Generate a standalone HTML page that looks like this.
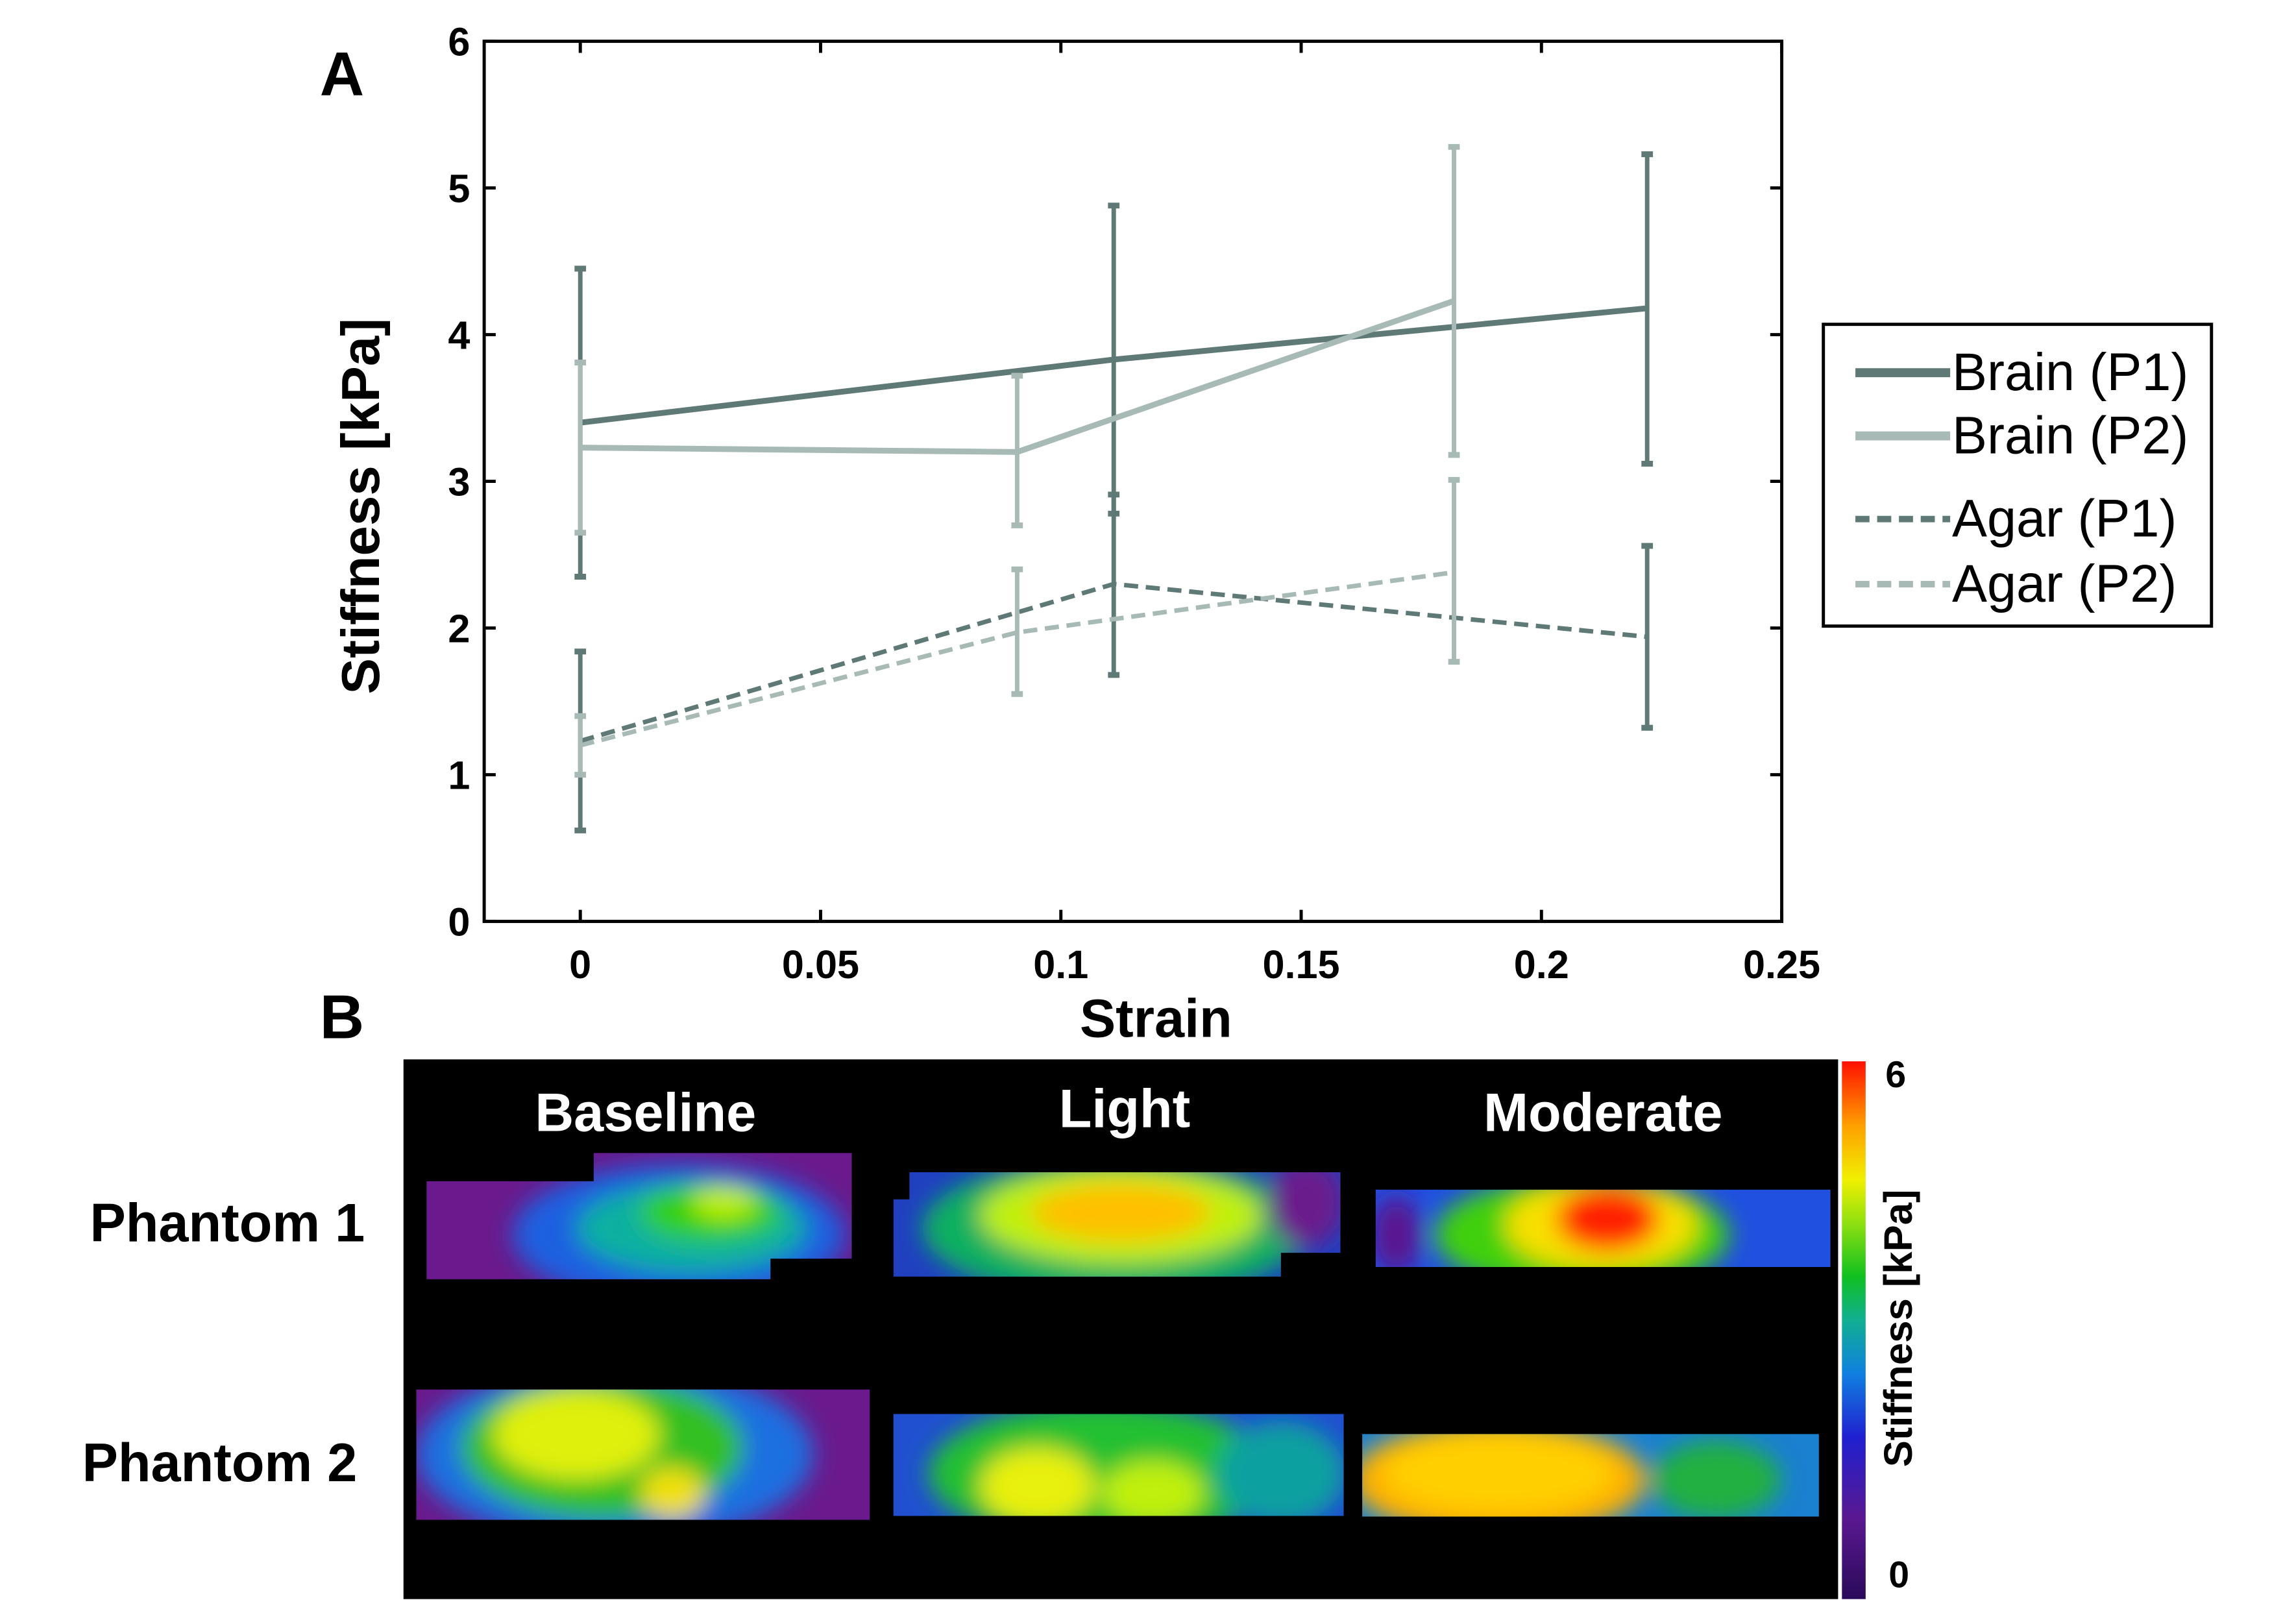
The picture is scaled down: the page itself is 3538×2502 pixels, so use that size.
<!DOCTYPE html>
<html><head><meta charset="utf-8"><style>
body{margin:0;background:#fff;}
svg{display:block;font-family:"Liberation Sans",Arial,sans-serif;}
</style></head><body>
<svg id="fig" width="3538" height="2502" viewBox="0 0 3538 2502">
<defs>
<filter id="bl" x="-20%" y="-20%" width="140%" height="140%"><feGaussianBlur stdDeviation="18"/></filter>
<linearGradient id="cbar" x1="0" y1="1" x2="0" y2="0">
<stop offset="0" stop-color="#2a0a5a"/><stop offset="0.15" stop-color="#5a1890"/><stop offset="0.3" stop-color="#2020d0"/><stop offset="0.42" stop-color="#1080e0"/><stop offset="0.52" stop-color="#10b090"/><stop offset="0.6" stop-color="#10c020"/><stop offset="0.7" stop-color="#90e010"/><stop offset="0.78" stop-color="#f0f000"/><stop offset="0.88" stop-color="#ffa000"/><stop offset="1" stop-color="#ff1000"/>
</linearGradient>
</defs>
<g transform="scale(0.9869,0.9934)">
<text x="534" y="148" font-size="96" font-weight="bold" text-anchor="middle">A</text>
<text x="534" y="1610" font-size="96" font-weight="bold" text-anchor="middle">B</text>
<g id="plot"></g>
<g>
<rect x="2847" y="503" width="606" height="468" fill="#fff" stroke="#000" stroke-width="5"/>
<line x1="2897" y1="578" x2="3045" y2="578" stroke="#5f7a76" stroke-width="14"/>
<text x="3048" y="605" font-size="82">Brain (P1)</text>
<line x1="2897" y1="676" x2="3045" y2="676" stroke="#a8bab6" stroke-width="14"/>
<text x="3048" y="703" font-size="82">Brain (P2)</text>
<line x1="2897" y1="805" x2="3045" y2="805" stroke="#5f7a76" stroke-width="10" stroke-dasharray="22 12"/>
<text x="3048" y="832" font-size="82">Agar (P1)</text>
<line x1="2897" y1="906" x2="3045" y2="906" stroke="#a8bab6" stroke-width="10" stroke-dasharray="22 12"/>
<text x="3048" y="933" font-size="82">Agar (P2)</text>
</g>
<g>
<rect x="630" y="1643" width="2240" height="837" fill="#000"/>
<text x="1008" y="1754" font-size="84" font-weight="bold" fill="#fff" text-anchor="middle">Baseline</text>
<text x="1756" y="1748" font-size="84" font-weight="bold" fill="#fff" text-anchor="middle">Light</text>
<text x="2503" y="1754" font-size="84" font-weight="bold" fill="#fff" text-anchor="middle">Moderate</text>
<text x="355" y="1925" font-size="84" font-weight="bold" text-anchor="middle">Phantom 1</text>
<text x="343" y="2297" font-size="84" font-weight="bold" text-anchor="middle">Phantom 2</text>
<g transform="translate(0,-15)">
<g>
<clipPath id="c1"><path d="M666 1847H927V1803H1330V1967H1203V1999H666Z"/></clipPath>
<g clip-path="url(#c1)"><rect x="660" y="1790" width="680" height="220" fill="#6a1a8c"/>
<g filter="url(#bl)"><ellipse cx="1060" cy="1930" rx="260" ry="110" fill="#1a60e0"/><ellipse cx="1080" cy="1920" rx="180" ry="70" fill="#10b0a0"/><ellipse cx="1110" cy="1895" rx="110" ry="45" fill="#30d010"/><ellipse cx="1130" cy="1880" rx="50" ry="25" fill="#c0f010"/></g></g></g>
<g>
<clipPath id="c2"><path d="M1420 1833H2093V1958H2000V1995H1395V1875H1420Z"/></clipPath>
<g clip-path="url(#c2)"><rect x="1390" y="1825" width="710" height="180" fill="#2040c0"/>
<g filter="url(#bl)"><ellipse cx="1740" cy="1920" rx="300" ry="110" fill="#10b060"/><ellipse cx="1750" cy="1900" rx="220" ry="75" fill="#c0f010"/><ellipse cx="1750" cy="1895" rx="140" ry="45" fill="#ffc000"/><ellipse cx="2040" cy="1880" rx="60" ry="70" fill="#6a1a8c"/></g></g></g>
<g>
<clipPath id="c3"><rect x="2148" y="1860" width="710" height="120"/></clipPath>
<g clip-path="url(#c3)"><rect x="2140" y="1850" width="730" height="140" fill="#2050e0"/>
<g filter="url(#bl)"><ellipse cx="2470" cy="1930" rx="230" ry="90" fill="#40d010"/><ellipse cx="2500" cy="1915" rx="150" ry="70" fill="#f8e000"/><ellipse cx="2510" cy="1905" rx="80" ry="50" fill="#ff2000"/><ellipse cx="2180" cy="1930" rx="40" ry="60" fill="#5a1890"/></g></g></g>
<g>
<clipPath id="c4"><rect x="650" y="2170" width="708" height="202"/></clipPath>
<g clip-path="url(#c4)"><rect x="640" y="2160" width="730" height="220" fill="#6a1a8c"/>
<g filter="url(#bl)"><ellipse cx="960" cy="2270" rx="310" ry="140" fill="#1a70e0"/><ellipse cx="940" cy="2260" rx="220" ry="110" fill="#30c020"/><ellipse cx="900" cy="2240" rx="130" ry="70" fill="#e0f010"/><ellipse cx="1050" cy="2330" rx="50" ry="40" fill="#f0e010"/></g></g></g>
<g>
<clipPath id="c5"><rect x="1395" y="2208" width="703" height="158"/></clipPath>
<g clip-path="url(#c5)"><rect x="1390" y="2200" width="715" height="170" fill="#2050d0"/>
<g filter="url(#bl)"><ellipse cx="1720" cy="2300" rx="270" ry="110" fill="#20c030"/><ellipse cx="1620" cy="2320" rx="90" ry="60" fill="#e8f010"/><ellipse cx="1800" cy="2330" rx="80" ry="50" fill="#c0f010"/><ellipse cx="2000" cy="2300" rx="100" ry="80" fill="#10a0a0"/></g></g></g>
<g>
<clipPath id="c6"><rect x="2127" y="2239" width="713" height="128"/></clipPath>
<g clip-path="url(#c6)"><rect x="2120" y="2230" width="730" height="140" fill="#1a80d0"/>
<g filter="url(#bl)"><ellipse cx="2340" cy="2310" rx="230" ry="90" fill="#ffb000"/><ellipse cx="2340" cy="2300" rx="180" ry="60" fill="#ffd000"/><ellipse cx="2680" cy="2310" rx="100" ry="60" fill="#20b040"/></g></g></g>
</g>
<rect x="2876" y="1646" width="37" height="834" fill="url(#cbar)"/>
<text x="2960" y="1686" font-size="58" font-weight="bold" text-anchor="middle">6</text>
<text x="2965" y="2462" font-size="58" font-weight="bold" text-anchor="middle">0</text>
<text transform="translate(2985,2060) rotate(-90)" font-size="62" font-weight="bold" text-anchor="middle">Stiffness [kPa]</text>
</g>
</g>
</svg>
<script>
const xValsP1=[0,0.111,0.222];
const xValsP2=[0,0.0909,0.1818];
const brainP1=[3.4,3.83,4.18];
const brainP1Lo=[2.35,2.78,3.12];
const brainP1Hi=[4.45,4.88,5.23];
const brainP2=[3.23,3.2,4.23];
const brainP2Lo=[2.65,2.7,3.18];
const brainP2Hi=[3.81,3.72,5.28];
const agarP1=[1.23,2.3,1.94];
const agarP1Lo=[0.62,1.68,1.32];
const agarP1Hi=[1.84,2.91,2.56];
const agarP2=[1.2,1.97,2.38];
const agarP2Lo=[1.0,1.55,1.77];
const agarP2Hi=[1.4,2.4,3.01];
const xTicks=[0,0.05,0.1,0.15,0.2,0.25];
const xTickLabels=["0","0.05","0.1","0.15","0.2","0.25"];
const yTicks=[0,1,2,3,4,5,6];

const L=756,R=2782,T=64,B=1429,XMIN=-0.02,XMAX=0.25,YMIN=0,YMAX=6;
const sx=v=>L+(v-XMIN)/(XMAX-XMIN)*(R-L);
const sy=v=>B-(v-YMIN)/(YMAX-YMIN)*(B-T);
const NS="http://www.w3.org/2000/svg";
const g=document.getElementById('plot');
function mk(tag,attrs){const e=document.createElementNS(NS,tag);for(const k in attrs)e.setAttribute(k,attrs[k]);g.appendChild(e);return e;}
let e=mk('rect',{x:L,y:T,width:R-L,height:B-T,fill:'none',stroke:'#000','stroke-width':5});


xTicks.forEach((t,i)=>{
 const x=sx(t);
 mk('line',{x1:x,y1:B,x2:x,y2:B-18,stroke:'#000','stroke-width':5});
 mk('line',{x1:x,y1:T,x2:x,y2:T+18,stroke:'#000','stroke-width':5});
 const tx=mk('text',{x:x,y:B+88,'font-size':62,'font-weight':'bold','text-anchor':'middle'});
 tx.textContent=xTickLabels[i];
 
 
});
yTicks.forEach(t=>{
 const y=sy(t);
 mk('line',{x1:L,y1:y,x2:L+18,y2:y,stroke:'#000','stroke-width':5});
 mk('line',{x1:R,y1:y,x2:R-18,y2:y,stroke:'#000','stroke-width':5});
 const tx=mk('text',{x:L-22,y:y+22,'font-size':62,'font-weight':'bold','text-anchor':'end'});
 tx.textContent=String(t);
 
 
});
let xl=mk('text',{x:1805,y:1608,'font-size':84,'font-weight':'bold','text-anchor':'middle'});
xl.textContent='Strain';


let yl=mk('text',{transform:'translate(592,785) rotate(-90)','font-size':84,'font-weight':'bold','text-anchor':'middle'});
yl.textContent='Stiffness [kPa]';


function series(xs,ys,lo,hi,color,dash,w,name){
 xs.forEach((xv,i)=>{
  const x=sx(xv);
  const eb=mk('line',{x1:x,y1:sy(lo[i]),x2:x,y2:sy(hi[i]),stroke:color,'stroke-width':7});
  
  
  mk('line',{x1:x-9,y1:sy(lo[i]),x2:x+9,y2:sy(lo[i]),stroke:color,'stroke-width':9});
  mk('line',{x1:x-9,y1:sy(hi[i]),x2:x+9,y2:sy(hi[i]),stroke:color,'stroke-width':9});
 });
 const p=mk('polyline',{points:xs.map((xv,i)=>sx(xv)+','+sy(ys[i])).join(' '),fill:'none',stroke:color,'stroke-width':w});
 if(dash)p.setAttribute('stroke-dasharray',dash);
 
 
}
series(xValsP1,agarP1,agarP1Lo,agarP1Hi,'#5f7a76','22 12',7,'agar-p1');
series(xValsP2,agarP2,agarP2Lo,agarP2Hi,'#a8bab6','22 12',7,'agar-p2');
series(xValsP1,brainP1,brainP1Lo,brainP1Hi,'#5f7a76',null,9,'brain-p1');
series(xValsP2,brainP2,brainP2Lo,brainP2Hi,'#a8bab6',null,9,'brain-p2');
</script>
</body></html>
